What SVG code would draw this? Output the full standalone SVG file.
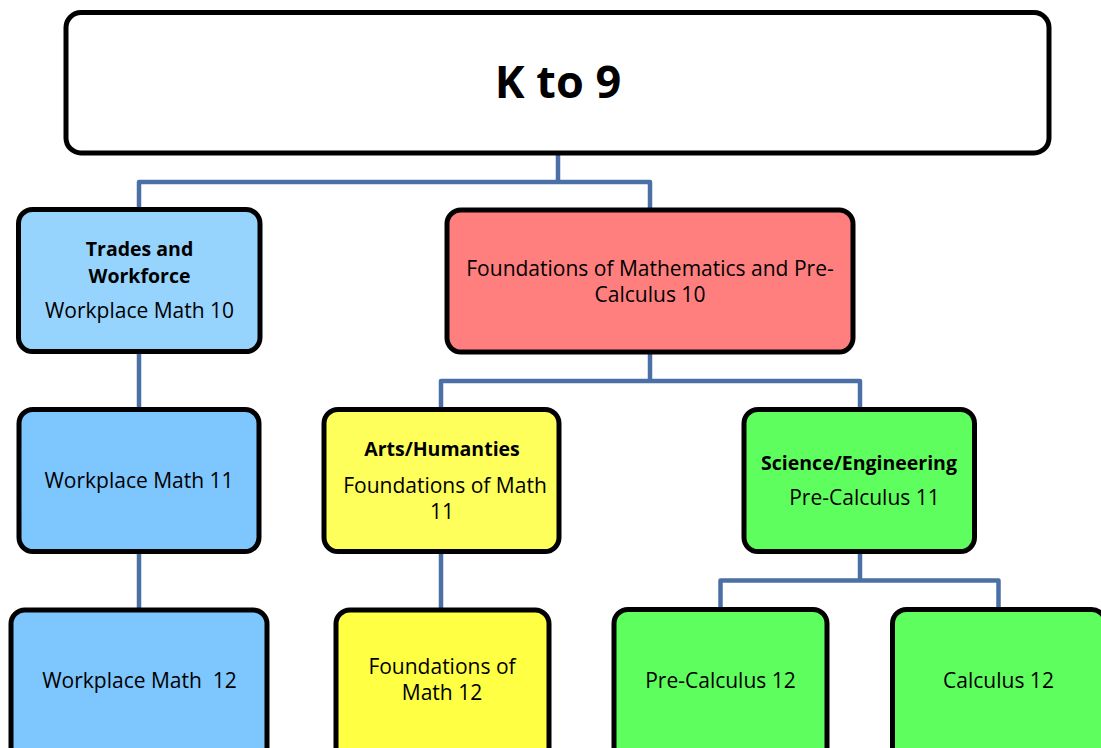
<svg xmlns="http://www.w3.org/2000/svg" width="1101" height="748" viewBox="0 0 1101 748">
<style>
.box{stroke:#000;stroke-width:5;}
.t{font-family:"Open Sans","Liberation Sans",sans-serif;font-size:21px;fill:#000;text-anchor:middle;}
.b{font-weight:bold;font-size:19.5px;}
.conn{fill:none;stroke:#4a70a6;stroke-width:4.5;stroke-linejoin:round;}
</style>
<rect width="1101" height="748" fill="#fff"/>
<g id="connectors">
<path class="conn" d="M558,153 V182 M139,209 V182 H650 V210"/>
<path class="conn" d="M139,351 V409"/>
<path class="conn" d="M139,551 V610"/>
<path class="conn" d="M650,352 V381 M441,409 V381 H860 V409"/>
<path class="conn" d="M441,551 V610"/>
<path class="conn" d="M860,551 V580.5 M720.5,609 V580.5 H998.5 V609"/>
</g>
<g id="k9">
<rect class="box" x="66" y="12.5" width="983" height="140.5" rx="15" fill="#fff"/>
<text class="t b" x="558" y="98" style="font-size:45px">K to 9</text>
</g>
<g id="trades">
<rect class="box" x="18.5" y="209.5" width="241.5" height="142" rx="14" fill="#96d4fe"/>
<text class="t b" x="139.5" y="256">Trades and</text>
<text class="t b" x="139.5" y="282.5">Workforce</text>
<text class="t" x="139.5" y="318">Workplace Math 10</text>
</g>
<g id="found10">
<rect class="box" x="447" y="210" width="406" height="142" rx="14" fill="#ff7f7f"/>
<text class="t" x="650" y="276">Foundations of Mathematics and Pre-</text>
<text class="t" x="650" y="302">Calculus 10</text>
</g>
<g id="wm11">
<rect class="box" x="19" y="409.5" width="240" height="142" rx="14" fill="#7ec6fe"/>
<text class="t" x="139" y="488">Workplace Math 11</text>
</g>
<g id="arts">
<rect class="box" x="324" y="409.5" width="235" height="142" rx="14" fill="#ffff5c"/>
<text class="t b" x="442" y="456">Arts/Humanties</text>
<text class="t" x="445" y="492.5">Foundations of Math</text>
<text class="t" x="442" y="519">11</text>
</g>
<g id="science">
<rect class="box" x="744" y="409.5" width="230.5" height="142" rx="14" fill="#5efe5e"/>
<text class="t b" x="859" y="470">Science/Engineering</text>
<text class="t" x="864.5" y="505">Pre-Calculus 11</text>
</g>
<g id="wm12">
<rect class="box" x="11" y="610" width="256" height="160" rx="14" fill="#7ec6fe"/>
<text class="t" x="139.5" y="688" xml:space="preserve">Workplace Math  12</text>
</g>
<g id="found12">
<rect class="box" x="336" y="610" width="213" height="160" rx="14" fill="#ffff44"/>
<text class="t" x="442" y="674">Foundations of</text>
<text class="t" x="442" y="700">Math 12</text>
</g>
<g id="precalc12">
<rect class="box" x="614" y="609.5" width="213" height="160" rx="14" fill="#5efe5e"/>
<text class="t" x="720.5" y="688">Pre-Calculus 12</text>
</g>
<g id="calc12">
<rect class="box" x="892.5" y="609.5" width="213" height="160" rx="14" fill="#5efe5e"/>
<text class="t" x="998.5" y="688">Calculus 12</text>
</g>
</svg>
